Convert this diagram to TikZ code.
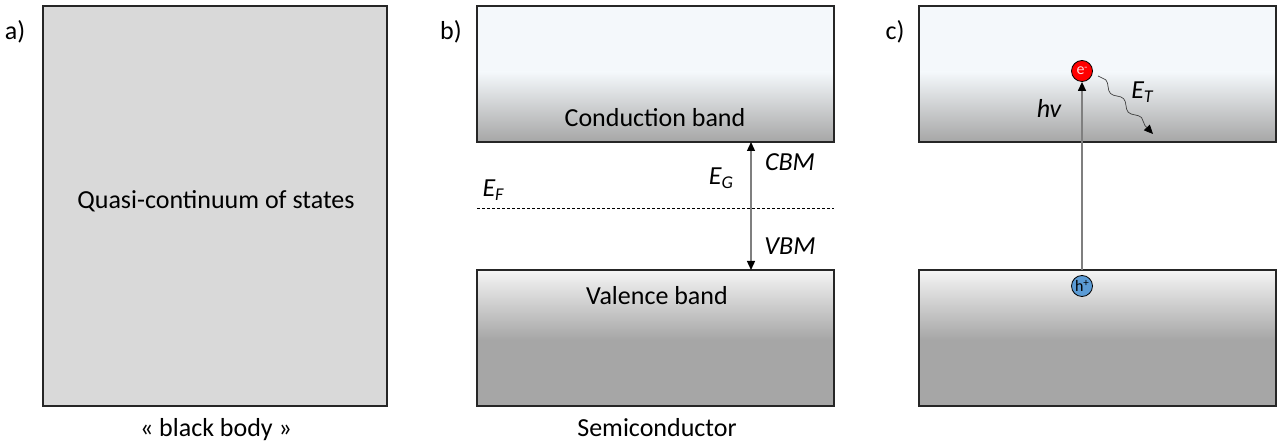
\documentclass[tikz,border=0pt]{standalone}
\usepackage{fontspec}
\setmainfont{Carlito}
\usetikzlibrary{arrows.meta,decorations.pathmorphing,calc}
\definecolor{boxgray}{HTML}{D9D9D9}
\definecolor{cbtop}{HTML}{F4F8FB}
\definecolor{bandgray}{HTML}{A6A6A6}
\definecolor{vbtop}{HTML}{F5F5F5}
\definecolor{lgray}{HTML}{7F7F7F}
\definecolor{ered}{HTML}{FF0000}
\definecolor{hblue}{HTML}{5B9BD5}
\tikzset{
  frame/.style={draw=black!85, line width=1.2pt},
  lbl/.style={font=\fontsize{26}{30}\selectfont, inner sep=0pt},
  panel/.style={font=\fontsize{26}{30}\selectfont, inner sep=0pt},
  itl/.style={font=\fontsize{26}{30}\selectfont\itshape, inner sep=0pt},
  tip/.style={-{Triangle[width=8pt,length=9pt,color=black]}},
  gline/.style={draw=lgray, line width=1.3pt},
  particle/.style={circle, draw=black, line width=0.8pt, minimum size=21pt, inner sep=0pt, font=\fontsize{16}{16}\selectfont}
}
\begin{document}
\begin{tikzpicture}[x=1pt,y=-1pt]
\useasboundingbox (0,0) rectangle (1277,443);
% ---------- panel a
\fill[boxgray] (43,6) rectangle (387,406);
\draw[frame] (43,6) rectangle (387,406);
\node[lbl] (qc) at (216,201) {Quasi-continuum of states};
\node[lbl, anchor=base] (bb) at (216,436) {« black body »};
\node[panel] (pa) at (15,32) {a)};
% ---------- panel b
\fill[cbtop] (477,6) rectangle (834,72);
\shade[top color=cbtop, bottom color=bandgray] (477,72) rectangle (834,142);
\draw[frame] (477,6) rectangle (834,142);
\shade[top color=vbtop, bottom color=bandgray] (477,270) rectangle (834,340);
\fill[bandgray] (477,340) rectangle (834,406);
\draw[frame] (477,270) rectangle (834,406);
\node[lbl] (cb) at (655,118) {Conduction band};
\node[lbl] (vb) at (657,296) {Valence band};
\coordinate (cbm) at (751,142);
\coordinate (vbm) at (751,270);
\draw[gline, {Triangle[width=8pt,length=9pt,color=black]}-{Triangle[width=8pt,length=9pt,color=black]}] (cbm) -- (vbm);
\node[itl] (cbml) at (790,162) {CBM};
\node[itl] (vbml) at (790,246) {VBM};
\node[itl] (eg) at (721,178) {E\raisebox{-0.35ex}{\fontsize{18}{18}\selectfont G}};
\node[itl] (ef) at (493,190) {E\raisebox{-0.35ex}{\fontsize{18}{18}\selectfont F}};
\coordinate (efl) at (477,208);
\coordinate (efr) at (834,208);
\draw[black, line width=0.6pt, dash pattern=on 3pt off 2pt] (efl) -- (efr);
\node[panel] (pb) at (451,32) {b)};
\node[lbl, anchor=base] (sc) at (657,436) {Semiconductor};
% ---------- panel c
\fill[cbtop] (919,6) rectangle (1276,72);
\shade[top color=cbtop, bottom color=bandgray] (919,72) rectangle (1276,142);
\draw[frame] (919,6) rectangle (1276,142);
\shade[top color=vbtop, bottom color=bandgray] (919,270) rectangle (1276,340);
\fill[bandgray] (919,340) rectangle (1276,406);
\draw[frame] (919,270) rectangle (1276,406);
\node[panel] (pc) at (895,32) {c)};
\node[particle, fill=ered, text=white!85!red] (el) at (1082,71) {e\raisebox{0.6ex}{\fontsize{10}{10}\selectfont -}};
\node[particle, fill=hblue, text=black] (ho) at (1082,286) {h\raisebox{0.6ex}{\fontsize{11}{11}\selectfont +}};
\coordinate (vtop) at (1082,270);
\draw[gline, tip] (vtop) -- (el.south);
\node[itl] (hv) at (1049,108) {hv};
\coordinate (ws) at (1098,76);
\coordinate (we) at (1153,134);
\draw[draw=black!75, line width=0.7pt, tip, decorate, decoration={snake, amplitude=3pt, segment length=26pt, post length=8pt}] (ws) -- (we);
\node[itl] (et) at (1142,92) {E\raisebox{-0.35ex}{\fontsize{18}{18}\selectfont T}};
\end{tikzpicture}
\end{document}
